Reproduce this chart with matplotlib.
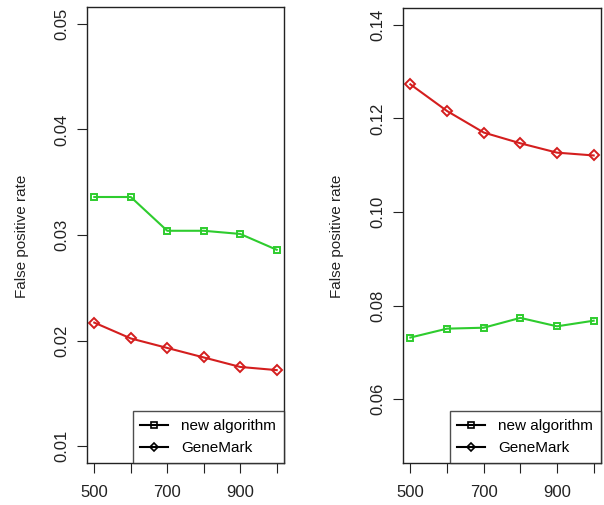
import matplotlib
matplotlib.use("Agg")
import matplotlib.pyplot as plt
from matplotlib.lines import Line2D

# window sizes on the x axis
lengths = [500, 600, 700, 800, 900, 1000]

# left panel
left_new = [0.0336, 0.0336, 0.0304, 0.0304, 0.0301, 0.0286]
left_genemark = [0.0217, 0.0202, 0.0193, 0.0184, 0.0175, 0.0172]
left_ticks = [0.01, 0.02, 0.03, 0.04, 0.05]

# right panel
right_new = [0.0732, 0.0751, 0.0753, 0.0774, 0.0756, 0.0768]
right_genemark = [0.1273, 0.1216, 0.1170, 0.1147, 0.1127, 0.1121]
right_ticks = [0.06, 0.08, 0.10, 0.12, 0.14]

xticks = [500, 700, 900]
series_names = ["new algorithm", "GeneMark"]

W, H = 604, 505
fig = plt.figure(figsize=(W / 100, H / 100), dpi=100)
plt.rcParams['font.family'] = ['Liberation Sans', 'DejaVu Sans']

green = '#2ecc2e'
red = '#d41e1e'


def make_panel(x0, x1, y0, y1, new, gm, ylim, ticks, label_x):
    ax = fig.add_axes([x0 / W, 1 - y1 / H, (x1 - x0) / W, (y1 - y0) / H])
    ax.plot(lengths, new, color=green, lw=1.5, marker='s', ms=5,
            mfc='none', mec=green, mew=1.4)
    ax.plot(lengths, gm, color=red, lw=1.5, marker='D', ms=5,
            mfc='none', mec=red, mew=1.4)
    # R-style 4% padding around the given range
    pad = (ylim[1] - ylim[0]) * 0.04
    ax.set_ylim(ylim[0] - pad, ylim[1] + pad)
    ax.set_xlim(480, 1020)
    ax.set_xticks(lengths)
    ax.set_xticklabels([str(v) if v in xticks else '' for v in lengths])
    ax.set_yticks(ticks)
    ax.set_yticklabels(['%.2f' % t for t in ticks], rotation=90, va='center')
    ax.tick_params(axis='x', labelsize=12, length=7, width=0.8,
                   colors='#222222', pad=9)
    ax.tick_params(axis='y', labelsize=12, length=7, width=0.8,
                   colors='#222222', pad=6)
    for s in ax.spines.values():
        s.set_linewidth(1.0)
        s.set_color('#222222')
    fig.text(label_x / W, 1 - 236 / H, 'False positive rate', rotation=90,
             ha='center', va='center', fontsize=11, color='#222222')
    handles = [
        Line2D([], [], color='black', lw=1.5, marker='s', ms=4.5, mfc='none', mew=1.2),
        Line2D([], [], color='black', lw=1.5, marker='D', ms=4.5, mfc='none', mew=1.2),
    ]
    leg = ax.legend(handles, series_names, loc='lower right', fontsize=11,
                    frameon=True, fancybox=False, borderpad=0.5,
                    handlelength=1.8, handletextpad=0.9, borderaxespad=0,
                    labelspacing=0.55)
    leg.get_frame().set_edgecolor('#222222')
    leg.get_frame().set_linewidth(1.0)
    return ax


make_panel(87, 284, 7, 463, left_new, left_genemark, (0.01, 0.05), left_ticks, 22)
make_panel(403, 601, 8, 463, right_new, right_genemark, (0.05, 0.14), right_ticks, 337)

fig.savefig('out.png', dpi=100)
